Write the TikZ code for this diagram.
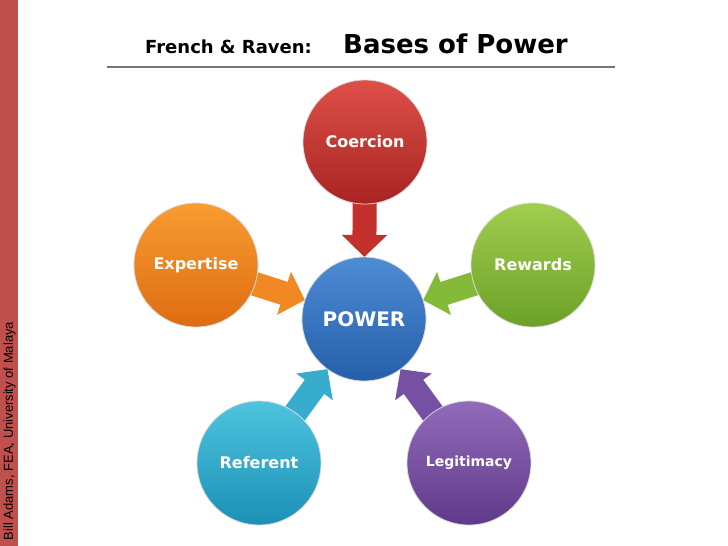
\documentclass[tikz,border=0pt]{standalone}
\usepackage{fontspec}
\setmainfont{DejaVu Sans}
\newfontfamily\arialfont{Liberation Sans}
\usetikzlibrary{arrows.meta}
\pgfdeclarelayer{bgl}
\pgfdeclarelayer{arrl}
\pgfsetlayers{bgl,arrl,main}
\definecolor{barred}{RGB}{192,80,77}
\definecolor{redT}{RGB}{222,80,72}\definecolor{redB}{RGB}{168,36,34}\definecolor{redA}{RGB}{196,48,44}
\definecolor{oraT}{RGB}{248,156,48}\definecolor{oraB}{RGB}{222,108,18}\definecolor{oraA}{RGB}{240,136,36}
\definecolor{grnT}{RGB}{160,206,78}\definecolor{grnB}{RGB}{108,160,40}\definecolor{grnA}{RGB}{132,186,56}
\definecolor{bluT}{RGB}{78,140,212}\definecolor{bluB}{RGB}{38,94,170}
\definecolor{cyaT}{RGB}{78,196,222}\definecolor{cyaB}{RGB}{28,144,182}\definecolor{cyaA}{RGB}{56,172,204}
\definecolor{purT}{RGB}{146,106,186}\definecolor{purB}{RGB}{96,58,138}\definecolor{purA}{RGB}{118,80,162}
\tikzset{
  base/.style={circle, minimum size=124pt, inner sep=0pt, outer sep=0pt, draw=white!85!black, line width=0.8pt, text=white, font=\bfseries\fontsize{16}{18}\selectfont},
  flow/.style={line width=24pt, -{Triangle[width=44pt,length=22pt]}, shorten <=-20pt},
}
\begin{document}
\begin{tikzpicture}[x=1pt,y=-1pt]
\begin{pgfonlayer}{bgl}
\fill[white] (0,0) rectangle (728,546);
\fill[barred] (0,0) rectangle (18,546);
\end{pgfonlayer}
\useasboundingbox (0,0) rectangle (728,546);
\node[rotate=90, font=\arialfont\fontsize{13}{14}\selectfont, inner sep=0pt] (credit) at (9.5,431) {Bill Adams, FEA, University of Malaya};
\node[anchor=base west, inner sep=0pt, font=\bfseries\fontsize{18}{20}\selectfont] (t1) at (145,53) {French \& Raven:};
\node[anchor=base west, inner sep=0pt, font=\bfseries\fontsize{26}{28}\selectfont] (t2) at (343,53) {Bases of Power};
\draw[black!55, line width=1.5pt] (107,67) -- (615,67);

\node[base, top color=bluT, bottom color=bluB, font=\bfseries\fontsize{20}{22}\selectfont] (power) at (364,319) {POWER};
\node[base, top color=redT, bottom color=redB] (coercion) at (365,142) {Coercion};
\node[base, top color=oraT, bottom color=oraB] (expertise) at (196,265) {Expertise};
\node[base, top color=grnT, bottom color=grnB] (rewards) at (533,265) {Rewards};
\node[base, top color=cyaT, bottom color=cyaB] (referent) at (259,463) {Referent};
\node[base, top color=purT, bottom color=purB, font=\bfseries\fontsize{14}{16}\selectfont] (legit) at (469,463) {Legitimacy};

\begin{pgfonlayer}{arrl}
\draw[flow, redA] (coercion) -- (power);
\draw[flow, oraA] (expertise) -- (power);
\draw[flow, grnA] (rewards) -- (power);
\draw[flow, cyaA] (referent) -- (power);
\draw[flow, purA] (legit) -- (power);
\end{pgfonlayer}
\end{tikzpicture}
\end{document}
